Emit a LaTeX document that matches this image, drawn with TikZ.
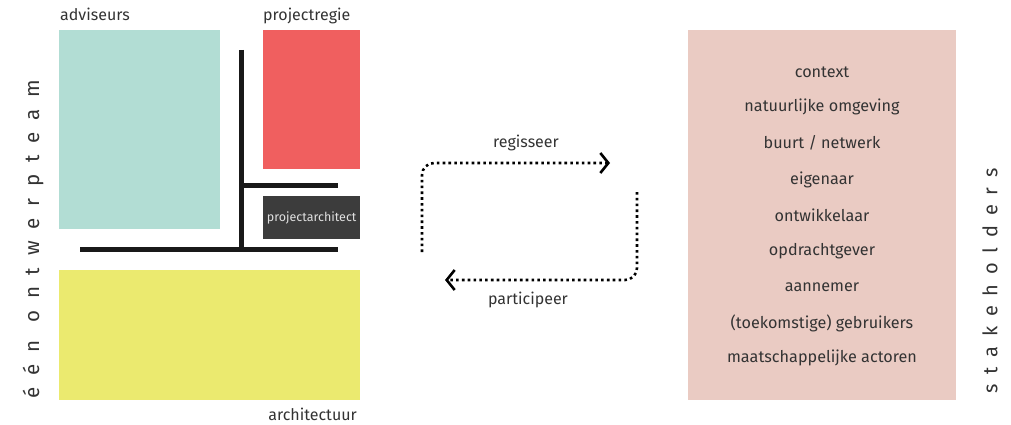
\documentclass[tikz,border=0pt]{standalone}
\usepackage{fontspec}
\setmainfont{Fira Sans}
\usetikzlibrary{arrows.meta}
\definecolor{teamteal}{HTML}{B2DDD4}
\definecolor{regiered}{HTML}{F05F5F}
\definecolor{archyellow}{HTML}{EBEA6F}
\definecolor{archdark}{HTML}{3C3C3C}
\definecolor{stakepink}{HTML}{EACBC3}
\definecolor{txtgray}{HTML}{333333}
\tikzset{
  vlak/.style={anchor=north west,inner sep=0pt,minimum width=#1},
  lbl/.style={text=txtgray,font=\fontsize{16}{18}\selectfont,inner sep=0pt},
  stake/.style={text=txtgray,font=\fontsize{16.2}{18}\selectfont,inner sep=0pt},
  balk/.style={line width=5pt,black!90},
  flow/.style={line width=2.6pt,dash pattern=on 2.6pt off 3.2pt,rounded corners=12pt,
    -{Straight Barb[length=8pt,width=20pt,line width=2.6pt]}},
}
\begin{document}
\begin{tikzpicture}[x=1pt,y=-1pt]
 \useasboundingbox[fill=white](0,0) rectangle (1011,425);
 % linker blok
 \node[vlak=161pt,minimum height=199pt,fill=teamteal](adv) at (59,30) {};
 \node[vlak=97pt,minimum height=139pt,fill=regiered](regie) at (263,30) {};
 \node[vlak=97pt,minimum height=43pt,fill=archdark](pa) at (263,196) {};
 \node[text=white!88!black,font=\fontsize{12.5}{14}\selectfont,inner sep=0pt](patxt) at (pa.center) {projectarchitect};
 \node[vlak=301pt,minimum height=130pt,fill=archyellow](arch) at (59,270) {};
 \node[lbl,anchor=base west](advlbl) at (60,21) {adviseurs};
 \node[lbl,anchor=base west](regielbl) at (263,21) {projectregie};
 \node[lbl,anchor=base east](archlbl) at (357,420) {architectuur};
 % balken
 \coordinate (b1) at (241,50);
 \coordinate (b2) at (241,249);
 \coordinate (b3) at (80,249);
 \coordinate (b4) at (338,249);
 \coordinate (b5) at (338,185);
 \draw[balk] (b1) -- (b2);
 \draw[balk] (b3) -- (b4);
 \draw[balk] (b2 |- b5) -- (b5);
 \node[lbl,rotate=90,font=\fontsize{20.5}{22}\selectfont\addfontfeature{LetterSpace=58}](team) at (33,239) {één ontwerpteam};
 % pijlen
 \node[lbl](reglbl) at (526,143) {regisseer};
 \node[lbl](partlbl) at (528,300) {participeer};
 \coordinate (r1) at (422,252);
 \coordinate (r2) at (610,163);
 \coordinate (p1) at (637,192);
 \coordinate (p2) at (445,280);
 \draw[flow] (r1) |- (r2);
 \draw[flow] (p1) |- (p2);
 % rechter blok
 \node[vlak=268pt,minimum height=370pt,fill=stakepink](stk) at (688,30) {};
 \node[stake](s1) at (822,72) {context};
 \node[stake](s2) at (822,107) {natuurlijke omgeving};
 \node[stake](s3) at (822,143) {buurt / netwerk};
 \node[stake](s4) at (822,180) {eigenaar};
 \node[stake](s5) at (822,215) {ontwikkelaar};
 \node[stake](s6) at (822,251) {opdrachtgever};
 \node[stake](s7) at (822,287) {aannemer};
 \node[stake](s8) at (822,323) {(toekomstige) gebruikers};
 \node[stake](s9) at (822,358) {maatschappelijke actoren};
 \node[lbl,rotate=90,font=\fontsize{20}{22}\selectfont\addfontfeature{LetterSpace=49}](stklbl) at (990,281) {stakeholders};
\end{tikzpicture}
\end{document}
